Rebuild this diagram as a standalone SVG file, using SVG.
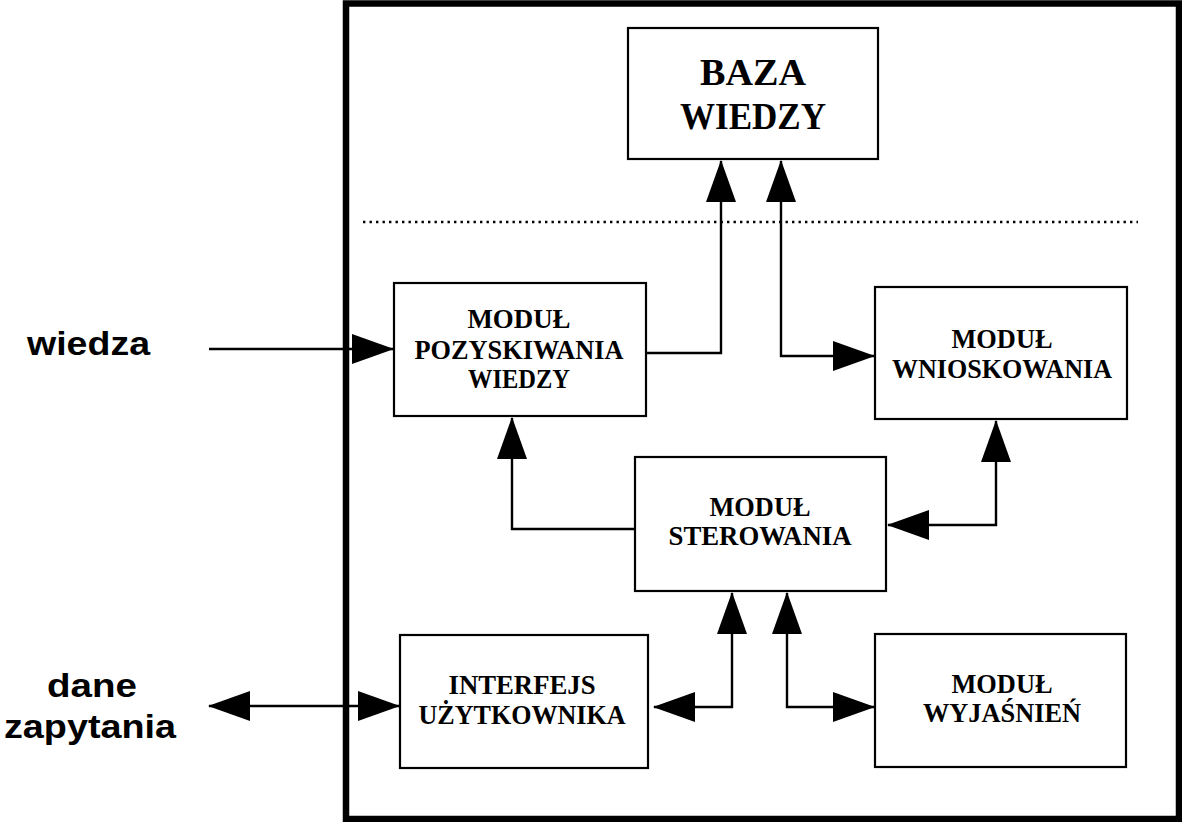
<svg xmlns="http://www.w3.org/2000/svg" width="1182" height="822" viewBox="0 0 1182 822">
  <style>
    .frame { fill: none; stroke: #000; stroke-width: 6.5; }
    .box { fill: #fff; stroke: #000; stroke-width: 2.2; }
    .sep { fill: none; stroke: #000; stroke-width: 2.6; stroke-dasharray: 2.4 4.1; }
    .wire { fill: none; stroke: #000; stroke-width: 2.4; }
    .one { marker-end: url(#head); }
    .two { marker-start: url(#head); marker-end: url(#head); }
    .lbl { font-family: "Liberation Serif", "Times New Roman", serif; font-weight: bold; font-size: 28px; fill: #000; text-anchor: middle; }
    .big { font-size: 37px; }
    .ext { font-family: "Liberation Sans", Arial, sans-serif; font-weight: bold; font-size: 33px; fill: #000; text-anchor: middle; }
  </style>
  <defs>
    <marker id="head" markerUnits="userSpaceOnUse" markerWidth="42" markerHeight="30" refX="41" refY="15" orient="auto-start-reverse" viewBox="0 0 42 30">
      <path d="M0,0 L42,15 L0,30 Z" fill="#000"/>
    </marker>
  </defs>
  <rect width="1182" height="822" fill="#fff"/>

  <!-- system boundary and separator -->
  <rect class="frame" x="346" y="3.5" width="833" height="815.5"/>
  <line class="sep" x1="363" y1="222" x2="1138" y2="222"/>

  <!-- external labels -->
  <text class="ext" x="88.5" y="355" textLength="123" lengthAdjust="spacingAndGlyphs">wiedza</text>
  <text class="ext" x="92" y="697" textLength="90" lengthAdjust="spacingAndGlyphs">dane</text>
  <text class="ext" x="90" y="738" textLength="172" lengthAdjust="spacingAndGlyphs">zapytania</text>

  <g id="baza-wiedzy">
    <rect class="box" x="628" y="28" width="250" height="131"/>
    <text class="lbl big" x="753" y="85" textLength="106" lengthAdjust="spacingAndGlyphs">BAZA</text>
    <text class="lbl big" x="753" y="129" textLength="146" lengthAdjust="spacingAndGlyphs">WIEDZY</text>
  </g>

  <g id="modul-pozyskiwania">
    <rect class="box" x="394" y="283" width="252" height="133"/>
    <text class="lbl" x="519" y="328" textLength="103" lengthAdjust="spacingAndGlyphs">MODUŁ</text>
    <text class="lbl" x="519" y="359" textLength="209" lengthAdjust="spacingAndGlyphs">POZYSKIWANIA</text>
    <text class="lbl" x="519" y="388" textLength="102" lengthAdjust="spacingAndGlyphs">WIEDZY</text>
  </g>

  <g id="modul-wnioskowania">
    <rect class="box" x="875" y="287" width="252" height="132"/>
    <text class="lbl" x="1002" y="348" textLength="101" lengthAdjust="spacingAndGlyphs">MODUŁ</text>
    <text class="lbl" x="1002" y="378" textLength="220" lengthAdjust="spacingAndGlyphs">WNIOSKOWANIA</text>
  </g>

  <g id="modul-sterowania">
    <rect class="box" x="635" y="457" width="251" height="134"/>
    <text class="lbl" x="760" y="516" textLength="101" lengthAdjust="spacingAndGlyphs">MODUŁ</text>
    <text class="lbl" x="760" y="545" textLength="183" lengthAdjust="spacingAndGlyphs">STEROWANIA</text>
  </g>

  <g id="interfejs-uzytkownika">
    <rect class="box" x="400" y="635" width="248" height="133"/>
    <text class="lbl" x="522" y="694" textLength="147" lengthAdjust="spacingAndGlyphs">INTERFEJS</text>
    <text class="lbl" x="522" y="724" textLength="207" lengthAdjust="spacingAndGlyphs">UŻYTKOWNIKA</text>
  </g>

  <g id="modul-wyjasnien">
    <rect class="box" x="875" y="634" width="251" height="133"/>
    <text class="lbl" x="1002" y="693" textLength="101" lengthAdjust="spacingAndGlyphs">MODUŁ</text>
    <text class="lbl" x="1002" y="722" textLength="158" lengthAdjust="spacingAndGlyphs">WYJAŚNIEŃ</text>
  </g>

  <g id="connectors">
    <path class="wire one" d="M209,349 H393"/>
    <path class="wire one" d="M646,353 H721 V161"/>
    <path class="wire two" d="M781,161 V356 H874"/>
    <path class="wire one" d="M635,529 H512 V418"/>
    <path class="wire two" d="M996,421 V525 H888"/>
    <path class="wire two" d="M732,593 V707 H654"/>
    <path class="wire two" d="M787,593 V707 H874"/>
    <path class="wire two" d="M209,706 H399"/>
  </g>
</svg>
